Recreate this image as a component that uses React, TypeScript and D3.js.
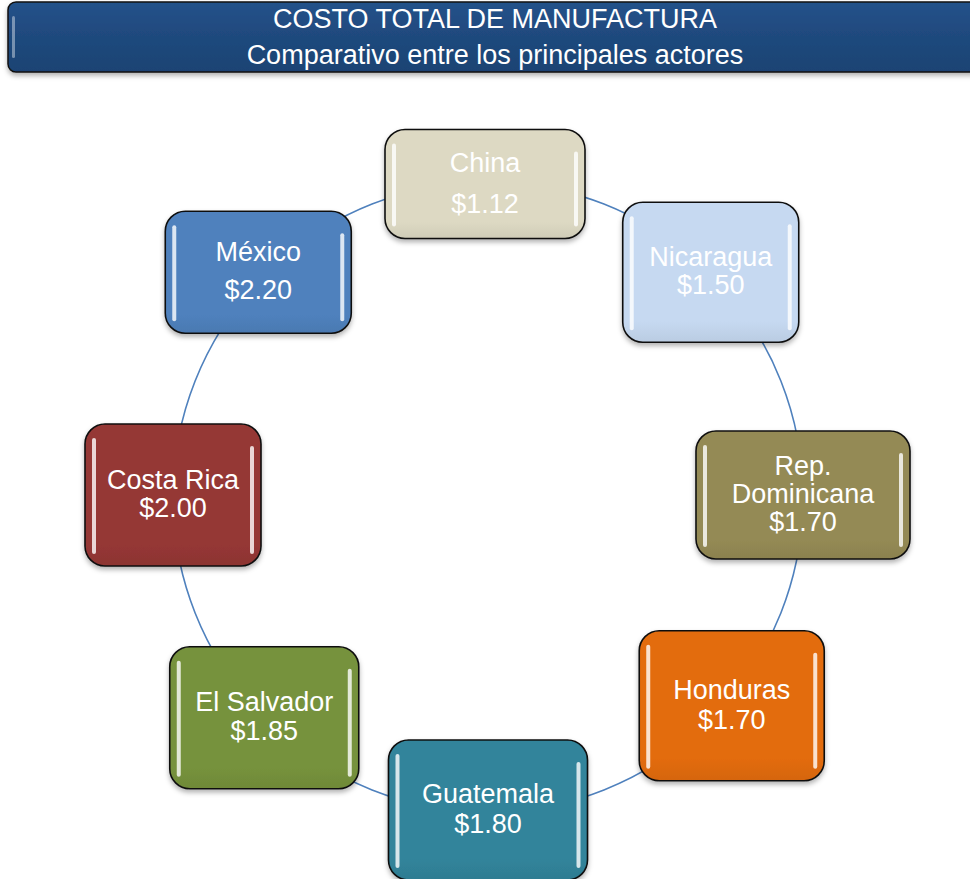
import React, { useEffect } from 'react';
import * as d3 from 'd3';

// chart data
const countries = ['China', 'Nicaragua', 'Rep. Dominicana', 'Honduras', 'Guatemala', 'El Salvador', 'Costa Rica', 'México'];
const costs = [1.12, 1.5, 1.7, 1.7, 1.8, 1.85, 2.0, 2.2];
const titleLines = ['COSTO TOTAL DE MANUFACTURA', 'Comparativo entre los principales actores'];

// styling per node (box size, small layout nudges, line gap, fill)
const boxW = [200, 176, 214, 185, 199, 189, 176, 186];
const boxH = [109, 140, 128, 150, 140, 142, 142, 122];
const nudgeX = [-3, 0, 0, 21, 0, -1, 0, -7];
const nudgeY = [4, 0, 0, -12, 0, 0, 0, 0];
const lineGaps = [41, 28, 28, 30, 30, 29, 28, 38];
const fills = ['#DDD9C3', '#C6D9F1', '#948A54', '#E36C09', '#31849B', '#76923C', '#953735', '#4F81BD'];

const W = 970;
const H = 879;
const cx = 488;
const cy = 495;
const R = 315;
const FONT = 'Arial, "Liberation Sans", sans-serif';

export default function App() {
  useEffect(() => {
    document.body.style.margin = '0';
  }, []);

  const angle = d3.scaleLinear()
    .domain([0, countries.length])
    .range([-Math.PI / 2, Math.PI * 1.5]);

  const nodes = countries.map((name, i) => {
    const a = angle(i);
    const lines = name.length > 12 ? name.split(' ') : [name];
    return {
      name,
      lines: [...lines, `$${costs[i].toFixed(2)}`],
      x: cx + R * Math.cos(a) + nudgeX[i],
      y: cy + R * Math.sin(a) + nudgeY[i],
      w: boxW[i],
      h: boxH[i],
      gap: lineGaps[i],
      fill: fills[i],
    };
  });

  return (
    <svg width={W} height={H} style={{ display: 'block', background: '#fff' }}>
      <defs>
        <filter id="shadow" x="-20%" y="-20%" width="140%" height="150%">
          <feDropShadow dx="0" dy="3" stdDeviation="2.5" floodColor="#000" floodOpacity="0.3" />
        </filter>
        <linearGradient id="titleGrad" x1="0" y1="0" x2="0" y2="1">
          <stop offset="0" stopColor="#24528A" />
          <stop offset="0.5" stopColor="#1F497D" />
          <stop offset="1" stopColor="#1C4373" />
        </linearGradient>
        {nodes.map((d, i) => {
          const c = d3.color(d.fill)!;
          return (
            <linearGradient key={i} id={`g${i}`} x1="0" y1="0" x2="0" y2="1">
              <stop offset="0" stopColor={d.fill} />
              <stop offset="0.85" stopColor={d.fill} />
              <stop offset="1" stopColor={c.darker(0.18).formatHex()} />
            </linearGradient>
          );
        })}
      </defs>

      {/* title bar */}
      <g filter="url(#shadow)">
        <rect x={8} y={2} width={975} height={70} rx={8} fill="url(#titleGrad)" stroke="#111" strokeWidth={1.5} />
      </g>
      <rect x={12} y={16} width={3} height={42} rx={1.5} fill="#fff" opacity={0.4} />
      {titleLines.map((t, i) => (
        <text key={i} x={495} y={28 + i * 36} textAnchor="middle" fill="#fff"
          style={{ fontFamily: FONT, fontSize: 27 }}>{t}</text>
      ))}

      {/* cycle ring */}
      <circle cx={cx} cy={cy + 2} r={R} fill="none" stroke="#4F81BD" strokeWidth={1.6} />

      {/* nodes */}
      {nodes.map((d, i) => {
        const x0 = d.x - d.w / 2;
        const y0 = d.y - d.h / 2;
        const n = d.lines.length;
        const firstY = d.y - ((n - 1) * d.gap) / 2 + 8;
        return (
          <g key={d.name}>
            <rect x={x0} y={y0} width={d.w} height={d.h} rx={20} fill={`url(#g${i})`}
              stroke="#111" strokeWidth={1.6} filter="url(#shadow)" />
            <rect x={x0 + 7} y={y0 + 14} width={4} height={d.h - 26} rx={2} fill="#fff" opacity={0.8} />
            <rect x={x0 + d.w - 11} y={y0 + 22} width={4} height={d.h - 34} rx={2} fill="#fff" opacity={0.8} />
            {d.lines.map((t, j) => (
              <text key={j} x={d.x} y={firstY + j * d.gap} textAnchor="middle" fill="#fff"
                style={{ fontFamily: FONT, fontSize: 27 }}>{t}</text>
            ))}
          </g>
        );
      })}
    </svg>
  );
}
